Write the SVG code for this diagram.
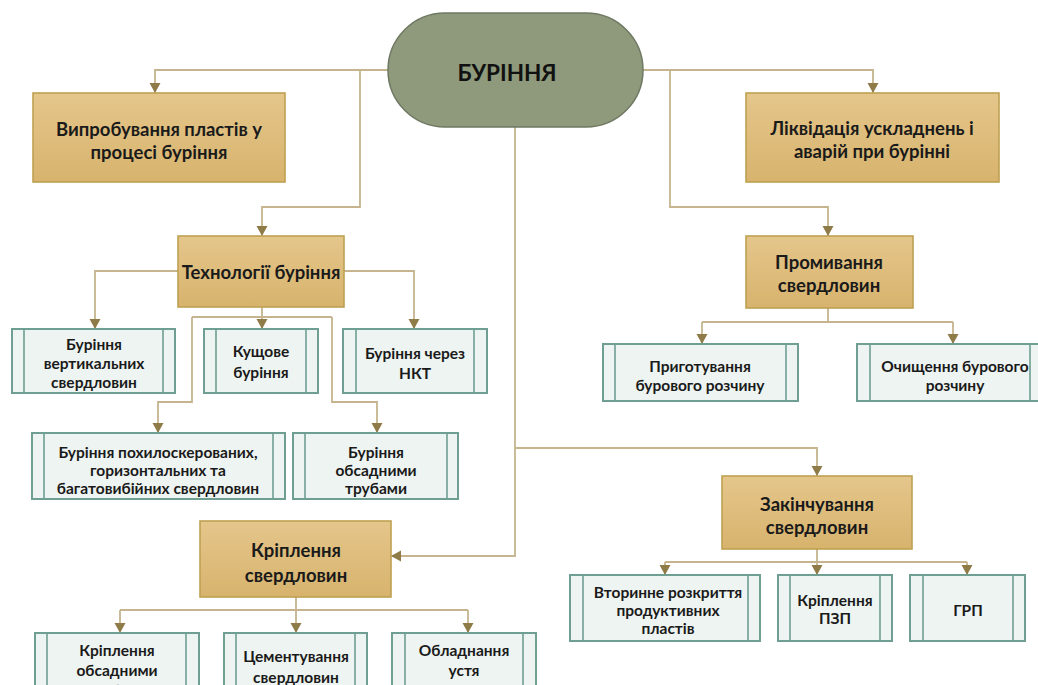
<svg xmlns="http://www.w3.org/2000/svg" width="1038" height="685" viewBox="0 0 1038 685">
<style>
.bg{fill:#ffffff}
.tan{fill:url(#tanGrad);stroke:#bfa152;stroke-width:1.6}
.teal{fill:#eef4f1;stroke:#6e9f92;stroke-width:2}
.inner{stroke:#6e9f92;stroke-width:1.6;fill:none}
.conn{fill:none;stroke:#c5b48e;stroke-width:1.8}
text{font-family:Lato,"Open Sans","Liberation Sans",sans-serif;font-weight:bold;fill:#1a1a1a;text-anchor:middle;dominant-baseline:central}
.t1{font-size:18.5px}
.t2{font-size:15.5px}
.t0{font-size:22.5px;fill:#111}
</style>
<defs>
<linearGradient id="tanGrad" x1="0" y1="0" x2="0" y2="1">
<stop offset="0" stop-color="#e5c68b"/>
<stop offset="1" stop-color="#d7b36d"/>
</linearGradient>
<marker id="arr" markerUnits="userSpaceOnUse" markerWidth="12" markerHeight="12" viewBox="0 0 12 12" refX="11" refY="6" orient="auto">
<path d="M1,0.5 L11,6 L1,11.5 Z" fill="#8e7b48"/>
</marker>
</defs>
<rect class="bg" x="0" y="0" width="1038" height="685"/>

<g id="connectors">
<path class="conn" d="M388,70 H155 V93" marker-end="url(#arr)"/>
<path class="conn" d="M643,70 H873 V93" marker-end="url(#arr)"/>
<path class="conn" d="M360,70 V207 H262 V236" marker-end="url(#arr)"/>
<path class="conn" d="M670,70 V207 H828 V236" marker-end="url(#arr)"/>
<path class="conn" d="M515,127 V556 H391" marker-end="url(#arr)"/>
<path class="conn" d="M515,448 H817 V476" marker-end="url(#arr)"/>
<path class="conn" d="M178,271 H95 V329" marker-end="url(#arr)"/>
<path class="conn" d="M344,271 H414 V329" marker-end="url(#arr)"/>
<path class="conn" d="M262,307 V329" marker-end="url(#arr)"/>
<path class="conn" d="M192,317 H332"/>
<path class="conn" d="M192,317 V402 H158 V433" marker-end="url(#arr)"/>
<path class="conn" d="M332,317 V402 H377 V433" marker-end="url(#arr)"/>
<path class="conn" d="M828,308 V322 M702,322 H953"/>
<path class="conn" d="M702,322 V344" marker-end="url(#arr)"/>
<path class="conn" d="M953,322 V344" marker-end="url(#arr)"/>
<path class="conn" d="M817,549 V562 M665,562 H967"/>
<path class="conn" d="M665,562 V575" marker-end="url(#arr)"/>
<path class="conn" d="M817,562 V575" marker-end="url(#arr)"/>
<path class="conn" d="M967,562 V575" marker-end="url(#arr)"/>
<path class="conn" d="M296,597 V610 M120,610 H468"/>
<path class="conn" d="M120,610 V633" marker-end="url(#arr)"/>
<path class="conn" d="M296,610 V633" marker-end="url(#arr)"/>
<path class="conn" d="M468,610 V633" marker-end="url(#arr)"/>
</g>

<g id="n-root">
<rect x="388" y="13" width="255" height="114" rx="57" ry="57" fill="#8e9a7b" stroke="#6f7862" stroke-width="1.5"/>
<text class="t0" x="507" y="72">БУРІННЯ</text>
</g>

<g id="n-vyprob">
<rect class="tan" x="33" y="93" width="252" height="89"/>
<text class="t1" x="159" y="129">Випробування пластів у</text>
<text class="t1" x="159" y="152">процесі буріння</text>
</g>

<g id="n-likv">
<rect class="tan" x="746" y="93" width="253" height="89"/>
<text class="t1" x="872" y="128">Ліквідація ускладнень і</text>
<text class="t1" x="872" y="151">аварій при бурінні</text>
</g>

<g id="n-tech">
<rect class="tan" x="178" y="236" width="166" height="71"/>
<text class="t1" x="261" y="272">Технології буріння</text>
</g>

<g id="n-promyv">
<rect class="tan" x="746" y="236" width="167" height="72"/>
<text class="t1" x="829" y="262">Промивання</text>
<text class="t1" x="829" y="285">свердловин</text>
</g>

<g id="n-kripl">
<rect class="tan" x="200" y="521" width="191" height="76"/>
<text class="t1" x="296" y="550">Кріплення</text>
<text class="t1" x="296" y="575">свердловин</text>
</g>

<g id="n-zakinch">
<rect class="tan" x="722" y="476" width="190" height="73"/>
<text class="t1" x="817" y="504">Закінчування</text>
<text class="t1" x="817" y="527">свердловин</text>
</g>

<g id="n-vert">
<rect class="teal" x="12" y="329" width="163" height="64"/>
<path class="inner" d="M24,329 V393 M163,329 V393"/>
<text class="t2" x="94" y="344">Буріння</text>
<text class="t2" x="94" y="363">вертикальних</text>
<text class="t2" x="94" y="382">свердловин</text>
</g>

<g id="n-kush">
<rect class="teal" x="204" y="329" width="114" height="64"/>
<path class="inner" d="M216,329 V393 M306,329 V393"/>
<text class="t2" x="261" y="351">Кущове</text>
<text class="t2" x="261" y="372">буріння</text>
</g>

<g id="n-nkt">
<rect class="teal" x="343" y="329" width="144" height="64"/>
<path class="inner" d="M356,329 V393 M474,329 V393"/>
<text class="t2" x="415" y="353">Буріння через</text>
<text class="t2" x="415" y="373">НКТ</text>
</g>

<g id="n-pokh">
<rect class="teal" x="32" y="433" width="253" height="66"/>
<path class="inner" d="M44,433 V499 M273,433 V499"/>
<text class="t2" x="158" y="452">Буріння похилоскерованих,</text>
<text class="t2" x="158" y="470">горизонтальних та</text>
<text class="t2" x="158" y="488">багатовибійних свердловин</text>
</g>

<g id="n-obsad">
<rect class="teal" x="293" y="433" width="165" height="66"/>
<path class="inner" d="M305,433 V499 M447,433 V499"/>
<text class="t2" x="376" y="452">Буріння</text>
<text class="t2" x="376" y="470">обсадними</text>
<text class="t2" x="376" y="488">трубами</text>
</g>

<g id="n-pryhot">
<rect class="teal" x="603" y="344" width="195" height="57"/>
<path class="inner" d="M615,344 V401 M786,344 V401"/>
<text class="t2" x="700" y="366">Приготування</text>
<text class="t2" x="700" y="385">бурового розчину</text>
</g>

<g id="n-ochysh">
<rect class="teal" x="857" y="344" width="182" height="57"/>
<path class="inner" d="M870,344 V401 M1030,344 V401"/>
<text class="t2" x="955" y="366">Очищення бурового</text>
<text class="t2" x="955" y="385">розчину</text>
</g>

<g id="n-vtor">
<rect class="teal" x="570" y="575" width="190" height="66"/>
<path class="inner" d="M583,575 V641 M748,575 V641"/>
<text class="t2" x="668" y="592">Вторинне розкриття</text>
<text class="t2" x="668" y="610">продуктивних</text>
<text class="t2" x="668" y="628">пластів</text>
</g>

<g id="n-pzp">
<rect class="teal" x="778" y="575" width="114" height="66"/>
<path class="inner" d="M790,575 V641 M880,575 V641"/>
<text class="t2" x="835" y="600">Кріплення</text>
<text class="t2" x="835" y="618">ПЗП</text>
</g>

<g id="n-grp">
<rect class="teal" x="910" y="575" width="115" height="66"/>
<path class="inner" d="M923,575 V641 M1013,575 V641"/>
<text class="t2" x="968" y="610">ГРП</text>
</g>

<g id="n-kr-obs">
<rect class="teal" x="35" y="633" width="164" height="70"/>
<path class="inner" d="M47,633 V703 M186,633 V703"/>
<text class="t2" x="117" y="650">Кріплення</text>
<text class="t2" x="117" y="670">обсадними</text>
<text class="t2" x="117" y="690">трубами</text>
</g>

<g id="n-tsem">
<rect class="teal" x="224" y="633" width="143" height="70"/>
<path class="inner" d="M236,633 V703 M355,633 V703"/>
<text class="t2" x="296" y="656">Цементування</text>
<text class="t2" x="296" y="677">свердловин</text>
</g>

<g id="n-oblad">
<rect class="teal" x="392" y="633" width="144" height="70"/>
<path class="inner" d="M405,633 V703 M523,633 V703"/>
<text class="t2" x="464" y="650">Обладнання</text>
<text class="t2" x="464" y="670">устя</text>
<text class="t2" x="464" y="690">свердловини</text>
</g>
</svg>
